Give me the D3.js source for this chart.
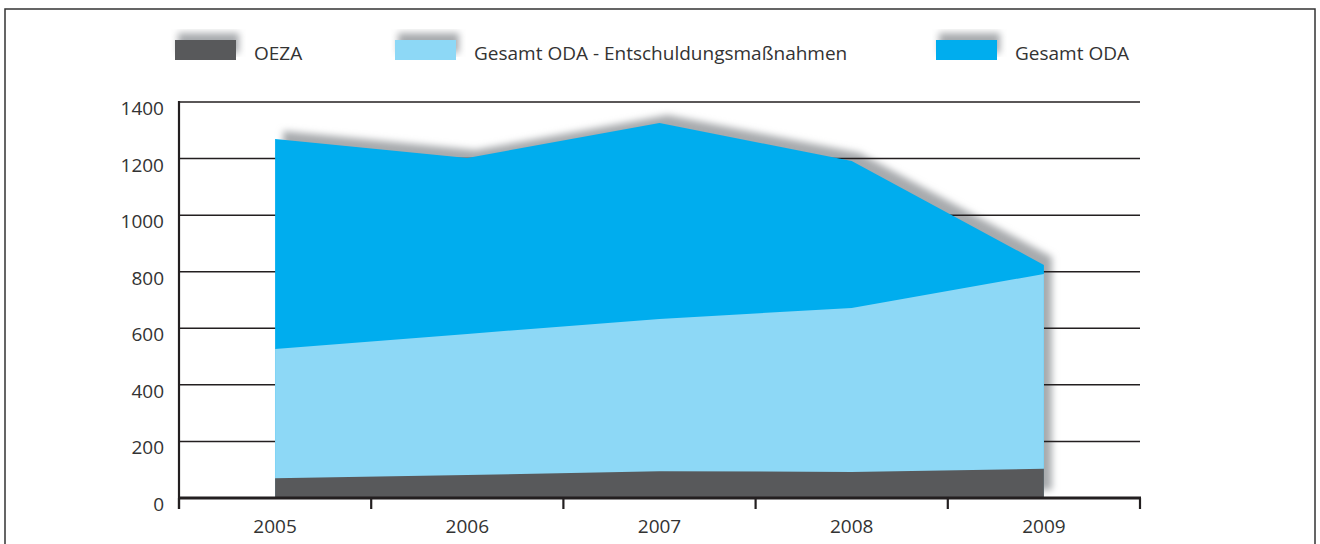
<!DOCTYPE html>
<html>
<head>
<meta charset="utf-8">
<script src="https://cdn.jsdelivr.net/npm/d3@7"></script>
<style>
  body { margin: 0; background: #fff; }
  svg { display: block; font-family: "Open Sans", sans-serif; }
</style>
</head>
<body>
<svg id="chart" width="1320" height="544"></svg>
<script>
// Data
const years = ["2005", "2006", "2007", "2008", "2009"];
const oeza = [70, 81, 95, 92, 103];
const odaOhneEntschuldung = [527, 580, 633, 672, 792];
const odaGesamt = [1269, 1202, 1326, 1191, 824];
const yTicks = [0, 200, 400, 600, 800, 1000, 1200, 1400];
const seriesNames = ["OEZA", "Gesamt ODA - Entschuldungsmaßnahmen", "Gesamt ODA"];
const colors = ["#58595b", "#8dd8f6", "#00adee"];

const svg = d3.select("#chart");

// shadow filter
const defs = svg.append("defs");
defs.append("filter")
  .attr("id", "blur")
  .attr("x", "-10%").attr("y", "-20%")
  .attr("width", "120%").attr("height", "140%")
  .append("feGaussianBlur")
  .attr("stdDeviation", 3.5);

// outer frame
svg.append("rect")
  .attr("x", 5).attr("y", 9)
  .attr("width", 1310).attr("height", 560)
  .attr("fill", "none")
  .attr("stroke", "#333")
  .attr("stroke-width", 1.5);

// Scales
const x = d3.scaleBand().domain(years).range([179, 1140]);
const cx = (i) => x(years[i]) + x.bandwidth() / 2;
const y = d3.scaleLinear().domain([0, 1400]).range([498, 102]);

const area = (vals) => d3.area()
  .x((d, i) => cx(i))
  .y0(y(0))
  .y1((d) => y(d))(vals);

// shadow of the total area
svg.append("path")
  .attr("d", area(odaGesamt))
  .attr("transform", "translate(8,-8)")
  .attr("fill", "#a7aaad")
  .attr("filter", "url(#blur)");

// gridlines
svg.append("g")
  .selectAll("line")
  .data(yTicks.filter((d) => d > 0))
  .enter()
  .append("line")
  .attr("x1", 179).attr("x2", 1140)
  .attr("y1", (d) => y(d)).attr("y2", (d) => y(d))
  .attr("stroke", "#231f20")
  .attr("stroke-width", 1.5);

// areas
[odaGesamt, odaOhneEntschuldung, oeza].forEach((vals, k) => {
  svg.append("path")
    .attr("d", area(vals))
    .attr("fill", colors[2 - k]);
});

// y axis
svg.append("line")
  .attr("x1", 179).attr("x2", 179)
  .attr("y1", y(1400) - 1).attr("y2", 509)
  .attr("stroke", "#231f20").attr("stroke-width", 2.2);

svg.append("g")
  .selectAll("text")
  .data(yTicks)
  .enter()
  .append("text")
  .attr("x", 164)
  .attr("y", (d) => y(d) + 13)
  .attr("text-anchor", "end")
  .attr("font-size", 19)
  .attr("fill", "#333")
  .text((d) => d);

// x axis
svg.append("line")
  .attr("x1", 178).attr("x2", 1141)
  .attr("y1", y(0)).attr("y2", y(0))
  .attr("stroke", "#231f20").attr("stroke-width", 3);

const bounds = years.map((d) => x(d)).concat([x.range()[1]]);
svg.append("g")
  .selectAll("line")
  .data(bounds)
  .enter()
  .append("line")
  .attr("x1", (d) => d).attr("x2", (d) => d)
  .attr("y1", y(0)).attr("y2", 509)
  .attr("stroke", "#231f20").attr("stroke-width", 2.2);

svg.append("g")
  .selectAll("text")
  .data(years)
  .enter()
  .append("text")
  .attr("x", (d, i) => cx(i))
  .attr("y", 533)
  .attr("text-anchor", "middle")
  .attr("font-size", 19)
  .attr("fill", "#333")
  .text((d) => d);

// legend
const legendX = [175, 395, 936];
const legend = svg.append("g");
seriesNames.forEach((name, i) => {
  legend.append("rect")
    .attr("x", legendX[i] + 3).attr("y", 33)
    .attr("width", 61).attr("height", 20)
    .attr("fill", "#a7aaad")
    .attr("filter", "url(#blur)");
  legend.append("rect")
    .attr("x", legendX[i]).attr("y", 40)
    .attr("width", 61).attr("height", 20)
    .attr("fill", colors[i]);
  legend.append("text")
    .attr("x", legendX[i] + 79)
    .attr("y", 60)
    .attr("font-size", 19)
    .attr("fill", "#333")
    .text(name);
});
</script>
</body>
</html>
